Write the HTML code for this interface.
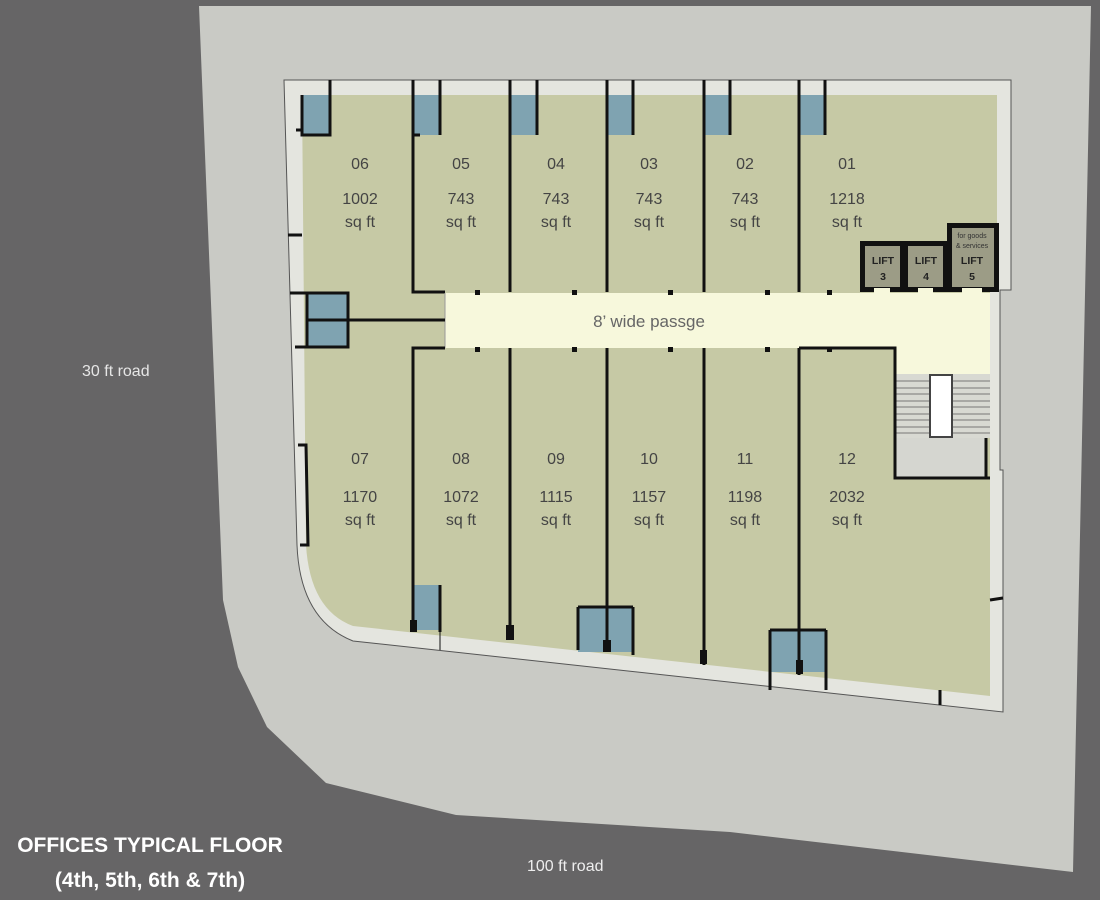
<!DOCTYPE html>
<html><head><meta charset="utf-8"><style>
html,body{margin:0;padding:0;background:#666566;}
svg{display:block}
text{font-family:"Liberation Sans","DejaVu Sans",sans-serif;}
</style></head><body>
<svg width="1100" height="900" viewBox="0 0 1100 900" xmlns="http://www.w3.org/2000/svg">
<rect width="1100" height="900" fill="#666566"/>
<!-- site -->
<polygon points="199,6 1091,6 1073,872 730,832 456,815 326,783 267,727 238,667 223,600" fill="#c9cac5"/>
<!-- building outer strip -->
<path d="M284,80 L1011,80 L1011,290 L1000,290 L1000,470 L1003,470 L1003,712 L353,641 Q300,620 297,545 Z" fill="#e4e5df" stroke="#555" stroke-width="1"/>
<!-- interior -->
<path d="M302,95 L997,95 L997,290 L990,290 L990,476 L990,696 L353,626 Q310,610 306,545 Z" fill="#c6c9a5"/>
<!-- passage -->
<rect x="445" y="293" width="545" height="55" fill="#f7f8dc"/>
<rect x="895" y="348" width="95" height="26" fill="#f7f8dc"/>
<!-- stairs -->
<rect x="895" y="374" width="95" height="64" fill="#d8d9d2"/>
<g stroke="#777" stroke-width="1">
<line x1="895" y1="381" x2="990" y2="381"/><line x1="895" y1="388" x2="990" y2="388"/><line x1="895" y1="394" x2="990" y2="394"/><line x1="895" y1="401" x2="990" y2="401"/><line x1="895" y1="407" x2="990" y2="407"/><line x1="895" y1="414" x2="990" y2="414"/><line x1="895" y1="420" x2="990" y2="420"/><line x1="895" y1="427" x2="990" y2="427"/><line x1="895" y1="433" x2="990" y2="433"/>
</g>
<rect x="930" y="375" width="22" height="62" fill="#fff" stroke="#444" stroke-width="2"/>
<rect x="895" y="438" width="90" height="40" fill="#d5d6d0"/>
<!-- windows -->
<g fill="#7fa3b1">
<rect x="302" y="95" width="28" height="40"/><rect x="413" y="95" width="27" height="40"/><rect x="510" y="95" width="27" height="40"/><rect x="607" y="95" width="26" height="40"/><rect x="704" y="95" width="26" height="40"/><rect x="799" y="95" width="26" height="40"/>
<rect x="307" y="293" width="41" height="54"/>
<rect x="413" y="585" width="27" height="45"/><rect x="578" y="607" width="55" height="45"/><rect x="770" y="630" width="56" height="42"/>
</g>
<!-- walls -->
<g stroke="#111" stroke-width="3" fill="none">
<path d="M302,95 L302,135 L330,135 L330,80"/>
<path d="M413,80 L413,292 L445,292"/><path d="M440,80 L440,135"/><line x1="413" y1="135" x2="420" y2="135"/>
<path d="M510,80 L510,292"/><path d="M537,80 L537,135"/>
<path d="M607,80 L607,292"/><path d="M633,80 L633,135"/>
<path d="M704,80 L704,292"/><path d="M730,80 L730,135"/>
<path d="M799,80 L799,292"/><path d="M825,80 L825,135"/>
<path d="M445,293 L445,348" stroke="#999" stroke-width="1"/>
<path d="M296,130 L302,130 M288,235 L302,235"/>
<path d="M290,293 L348,293 L348,347 L295,347 M307,293 L307,347 M307,320 L445,320"/>
<path d="M445,348 L413,348 L413,630"/>
<path d="M510,348 L510,640"/><path d="M607,348 L607,650"/><path d="M704,348 L704,665"/><path d="M799,348 L799,675"/>
<path d="M799,348 L895,348 L895,478 L990,478"/>
<path d="M986,438 L986,478"/>
<path d="M440,585 L440,632"/><path d="M578,607 L578,650 M633,607 L633,655 M578,607 L633,607"/>
<path d="M770,630 L770,690 M826,630 L826,690 M770,630 L826,630"/>
<path d="M298,445 L306,445 L308,545 L300,545"/>
<path d="M940,690 L940,705 M990,600 L1003,598"/>
</g>
<g stroke="#111" stroke-width="1" fill="none">
<line x1="440" y1="632" x2="440" y2="650"/>
</g>
<g fill="#111">
<rect x="506" y="625" width="8" height="15"/><rect x="603" y="640" width="8" height="12"/><rect x="700" y="650" width="7" height="14"/><rect x="796" y="660" width="7" height="14"/><rect x="410" y="620" width="7" height="12"/>
<rect x="475" y="290" width="5" height="5"/><rect x="572" y="290" width="5" height="5"/><rect x="668" y="290" width="5" height="5"/><rect x="765" y="290" width="5" height="5"/><rect x="827" y="290" width="5" height="5"/>
<rect x="475" y="347" width="5" height="5"/><rect x="572" y="347" width="5" height="5"/><rect x="668" y="347" width="5" height="5"/><rect x="765" y="347" width="5" height="5"/><rect x="827" y="347" width="5" height="5"/>
</g>
<!-- lifts -->
<rect x="860" y="241" width="87" height="51" fill="#111"/>
<rect x="947" y="223" width="52" height="69" fill="#111"/>
<rect x="865" y="246" width="35" height="41" fill="#9c9c86"/>
<rect x="908" y="246" width="35" height="41" fill="#9c9c86"/>
<rect x="952" y="228" width="42" height="59" fill="#9c9c86"/>
<g fill="#f7f8dc"><rect x="874" y="288" width="16" height="5"/><rect x="918" y="288" width="15" height="5"/><rect x="962" y="288" width="20" height="5"/></g>
<g font-size="10.5" font-weight="bold" fill="#222" text-anchor="middle">
<text x="883" y="264">LIFT</text><text x="883" y="280">3</text>
<text x="926" y="264">LIFT</text><text x="926" y="280">4</text>
<text x="972" y="264">LIFT</text><text x="972" y="280">5</text>
</g>
<g font-size="7" fill="#333" text-anchor="middle"><text x="972" y="238">for goods</text><text x="972" y="248">&amp; services</text></g>
<!-- labels -->
<g font-size="16" fill="#444" text-anchor="middle">
<text x="360" y="169">06</text><text x="360" y="204">1002</text><text x="360" y="227">sq ft</text>
<text x="461" y="169">05</text><text x="461" y="204">743</text><text x="461" y="227">sq ft</text>
<text x="556" y="169">04</text><text x="556" y="204">743</text><text x="556" y="227">sq ft</text>
<text x="649" y="169">03</text><text x="649" y="204">743</text><text x="649" y="227">sq ft</text>
<text x="745" y="169">02</text><text x="745" y="204">743</text><text x="745" y="227">sq ft</text>
<text x="847" y="169">01</text><text x="847" y="204">1218</text><text x="847" y="227">sq ft</text>
<text x="360" y="464">07</text><text x="360" y="502">1170</text><text x="360" y="525">sq ft</text>
<text x="461" y="464">08</text><text x="461" y="502">1072</text><text x="461" y="525">sq ft</text>
<text x="556" y="464">09</text><text x="556" y="502">1115</text><text x="556" y="525">sq ft</text>
<text x="649" y="464">10</text><text x="649" y="502">1157</text><text x="649" y="525">sq ft</text>
<text x="745" y="464">11</text><text x="745" y="502">1198</text><text x="745" y="525">sq ft</text>
<text x="847" y="464">12</text><text x="847" y="502">2032</text><text x="847" y="525">sq ft</text>
<text x="649" y="327" font-size="17" fill="#666">8’ wide passge</text>
</g>
<text x="82" y="376" font-size="16" fill="#e6e6e6">30 ft road</text>
<text x="527" y="871" font-size="16" fill="#eeeeee">100 ft road</text>
<g font-size="21" font-weight="bold" fill="#fff" text-anchor="middle">
<text x="150" y="852">OFFICES TYPICAL FLOOR</text>
<text x="150" y="887">(4th, 5th, 6th &amp; 7th)</text>
</g>
</svg>
</body></html>
